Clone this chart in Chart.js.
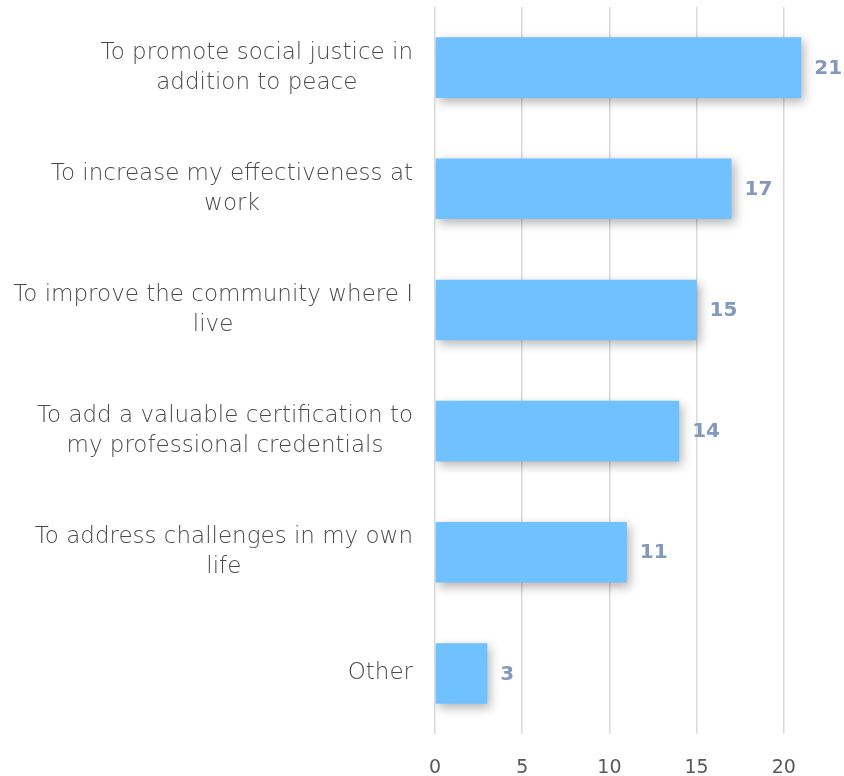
<!DOCTYPE html>
<html>
<head>
<meta charset="utf-8">
<script src="https://cdn.jsdelivr.net/npm/chart.js@4/dist/chart.umd.min.js"></script>
<style>
    html, body { margin: 0; padding: 0; background: #ffffff; }
    canvas { display: block; }
</style>
</head>
<body>
<canvas id="reasonsChart" width="844" height="776"></canvas>
<script>
// Chart data
const categories = [
    ["To promote social justice in", "addition to peace"],
    ["To increase my effectiveness at", "work"],
    ["To improve the community where I", "live"],
    ["To add a valuable certification to", "my professional credentials"],
    ["To address challenges in my own", "life"],
    ["Other"]
];
const responses = [21, 17, 15, 14, 11, 3];
const xTicks = [0, 5, 10, 15, 20];

const labelFont = "DejaVu Sans";
const textGray = "#595959";

// soft shadow under the bars
const barShadow = {
    id: "barShadow",
    beforeDatasetsDraw(chart) {
        const ctx = chart.ctx;
        ctx.save();
        ctx.shadowColor = "rgba(0, 0, 0, 0.3)";
        ctx.shadowBlur = 10;
        ctx.shadowOffsetX = 3;
        ctx.shadowOffsetY = 4;
    },
    afterDatasetsDraw(chart) {
        chart.ctx.restore();
    }
};

// category labels: right-aligned blocks, each line centred in its block
const categoryLabels = {
    id: "categoryLabels",
    afterDraw(chart) {
        const ctx = chart.ctx;
        const yScale = chart.scales.y;
        const right = chart.chartArea.left - 22;
        const lineH = 30;
        ctx.save();
        ctx.font = "200 23px '" + labelFont + "'";
        ctx.fillStyle = "#4a4a4a";
        ctx.textAlign = "center";
        ctx.textBaseline = "middle";
        categories.forEach(function (lines, i) {
            const y = yScale.getPixelForValue(i);
            const blockW = Math.max.apply(null, lines.map(l => ctx.measureText(l).width));
            const cx = right - blockW / 2;
            const y0 = y - (lines.length - 1) * lineH / 2;
            lines.forEach(function (line, j) {
                ctx.fillText(line, cx, y0 + j * lineH);
            });
        });
        ctx.restore();
    }
};

// value labels at the end of each bar
const valueLabels = {
    id: "valueLabels",
    afterDatasetsDraw(chart) {
        const ctx = chart.ctx;
        const meta = chart.getDatasetMeta(0);
        ctx.save();
        ctx.font = "bold 20px '" + labelFont + "'";
        ctx.fillStyle = "#8299BF";
        ctx.textAlign = "left";
        ctx.textBaseline = "middle";
        meta.data.forEach(function (bar, i) {
            ctx.fillText(String(responses[i]), bar.x + 13, bar.y + 1);
        });
        ctx.restore();
    }
};

const ctx = document.getElementById("reasonsChart").getContext("2d");
new Chart(ctx, {
    type: "bar",
    data: {
        labels: categories,
        datasets: [{
            data: responses,
            backgroundColor: "#70C1FF",
            borderWidth: 0,
            barPercentage: 0.5,
            categoryPercentage: 1.0
        }]
    },
    options: {
        indexAxis: "y",
        responsive: false,
        animation: false,
        layout: { padding: { left: 435, top: 7, right: 0, bottom: 0 } },
        plugins: {
            legend: { display: false },
            tooltip: { enabled: false }
        },
        scales: {
            x: {
                min: 0,
                max: 23.45,
                afterBuildTicks: function (scale) {
                    scale.ticks = xTicks.map(v => ({ value: v }));
                },
                afterFit: function (scale) {
                    scale.height = 42;
                },
                grid: { color: "#D9D9D9", lineWidth: 1.5, drawTicks: false },
                border: { display: false },
                ticks: {
                    padding: 25,
                    color: textGray,
                    font: { family: labelFont, size: 19, lineHeight: 1 }
                }
            },
            y: {
                display: false
            }
        }
    },
    plugins: [barShadow, valueLabels, categoryLabels]
});
</script>
</body>
</html>
